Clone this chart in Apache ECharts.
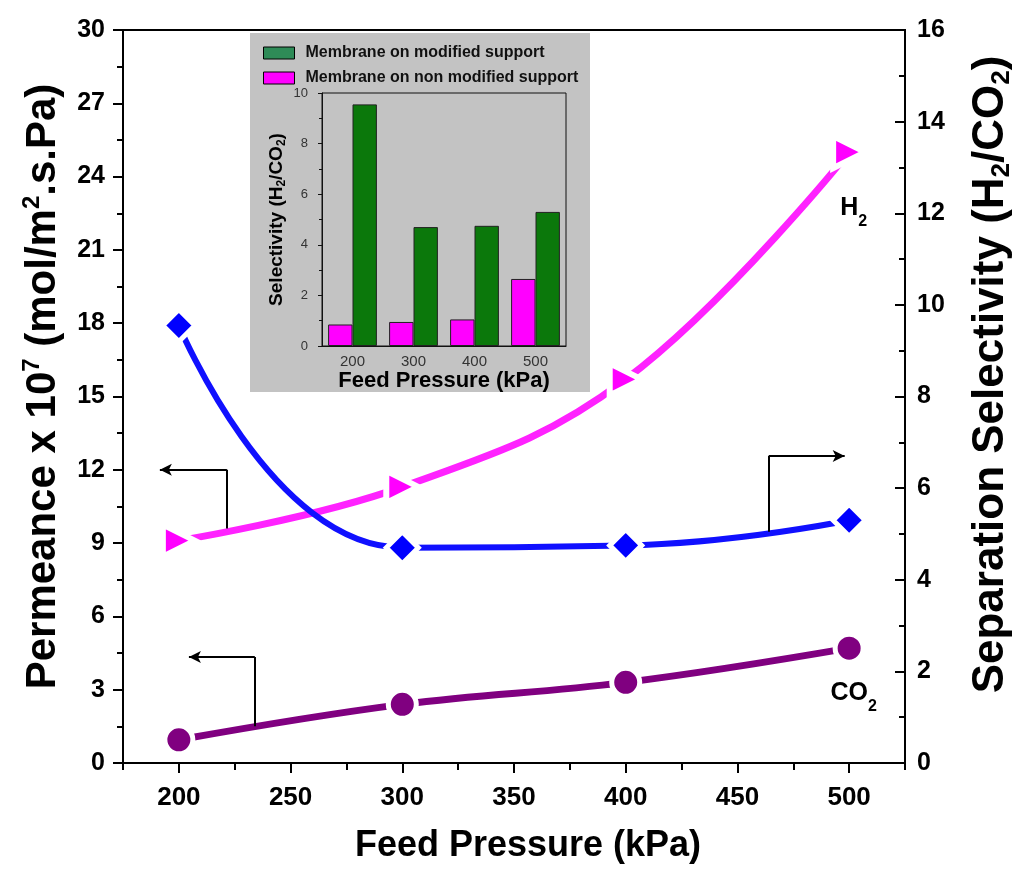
<!DOCTYPE html>
<html>
<head>
<meta charset="utf-8">
<script src="https://cdn.jsdelivr.net/npm/echarts@6/dist/echarts.min.js"></script>
<style>
html,body{margin:0;padding:0;background:#fff;}
#chart{width:1015px;height:870px;}
</style>
</head>
<body>
<div id="chart"></div>
<script>
// ---- data ----
const pressure = [200, 300, 400, 500];
const h2Permeance = [9.1, 11.3, 15.7, 25.0];
const co2Permeance = [0.95, 2.4, 3.3, 4.7];
const selectivityModified = [9.55, 4.7, 4.75, 5.3];
const selectivityNonModified = [0.85, 0.95, 1.05, 2.65];
const insetCategories = ['200', '300', '400', '500'];
const xTickValues = [200, 250, 300, 350, 400, 450, 500];
const leftTickValues = [0, 3, 6, 9, 12, 15, 18, 21, 24, 27, 30];
const rightTickValues = [0, 2, 4, 6, 8, 10, 12, 14, 16];
const legendNames = ['Membrane on modified support', 'Membrane on non modified support'];
// annotation arrows (data coordinates): foot on the curve, corner, arrow tip
const arrowH2 = { foot: [221.5, 9.6], corner: [221.5, 12.0], tip: [191.5, 12.0] };
const arrowCO2 = { foot: [234, 1.5], corner: [234, 4.34], tip: [204.5, 4.34] };
const arrowSel = { foot: [464, 5.05], corner: [464, 6.7], tip: [498, 6.7] };
const labelH2Pos = [502, 22.7];
const labelCO2Pos = [502, 2.85];

const FONT = "'Liberation Sans', Arial, sans-serif";

function pairs(xs, ys) { return xs.map((x, i) => [x, ys[i]]); }
function arrowLines(a) {
  return [
    [{ coord: a.foot, symbol: 'none' }, { coord: a.corner, symbol: 'none' }],
    [{ coord: a.corner, symbol: 'none' }, { coord: a.tip, symbol: 'arrow' }]
  ];
}
const arrowStyle = {
  silent: true,
  symbolSize: [9, 12],
  lineStyle: { color: '#000', width: 2, type: 'solid' },
  label: { show: false },
  emphasis: { disabled: true }
};
const subLabel = (fs, sfs) => ({
  b: { fontFamily: FONT, fontWeight: 'bold', fontSize: fs, color: '#000', lineHeight: fs + 4 },
  s: { fontFamily: FONT, fontWeight: 'bold', fontSize: sfs, color: '#000', lineHeight: fs + 4, verticalAlign: 'bottom', padding: [0, 0, -7, 0] }
});

const chart = echarts.init(document.getElementById('chart'), null, { renderer: 'canvas' });
const option = {
  animation: false,
  backgroundColor: '#fff',
  graphic: [{
    type: 'rect', left: 250, top: 33, z: -1,
    shape: { width: 340, height: 359 },
    style: { fill: '#c3c3c3' }
  }],
  legend: {
    data: [
      { name: legendNames[0], itemStyle: { color: '#2e8b57', borderColor: '#000', borderWidth: 1 } },
      { name: legendNames[1], itemStyle: { color: '#ff00ff', borderColor: '#000', borderWidth: 1 } }
    ],
    orient: 'vertical', left: 258, top: 40,
    itemWidth: 31, itemHeight: 12, itemGap: 9,
    icon: 'rect',
    textStyle: { fontFamily: FONT, fontWeight: 'bold', fontSize: 16, color: '#111', padding: [0, 0, 0, 6] },
    selectedMode: false
  },
  grid: [
    { left: 123, right: 110, top: 30, bottom: 107, outerBoundsMode: 'none', containLabel: false, show: true, borderColor: '#000', borderWidth: 2 },
    { left: 322, top: 93, width: 244, height: 253, outerBoundsMode: 'none', containLabel: false, show: true, borderColor: '#111', borderWidth: 1 }
  ],
  xAxis: [
    {
      gridIndex: 0, type: 'value', min: 175, max: 525, interval: 25,
      axisLine: { lineStyle: { color: '#000', width: 2 } },
      axisTick: { show: true, length: 10, lineStyle: { color: '#000', width: 2 }, customValues: xTickValues },
      minorTick: { show: false },
      splitLine: { show: false },
      axisLabel: { customValues: xTickValues, margin: 22, fontFamily: FONT, fontWeight: 'bold', fontSize: 26, color: '#000' },
      name: 'Feed Pressure (kPa)', nameLocation: 'middle', nameGap: 65,
      nameTextStyle: { fontFamily: FONT, fontWeight: 'bold', fontSize: 36, color: '#000', padding: [0, 0, 0, 28] }
    },
    {
      gridIndex: 0, type: 'value', min: 175, max: 525, interval: 25, position: 'bottom',
      axisLine: { show: false },
      axisTick: { show: true, length: 7, lineStyle: { color: '#000', width: 2 } },
      axisLabel: { show: false }, splitLine: { show: false }
    },
    {
      gridIndex: 1, type: 'category', data: insetCategories,
      axisLine: { lineStyle: { color: '#111', width: 1 } },
      axisTick: { length: 4, lineStyle: { color: '#111' } },
      axisLabel: { margin: 8, fontFamily: FONT, fontSize: 15, color: '#333' },
      name: 'Feed Pressure (kPa)', nameLocation: 'middle', nameGap: 23,
      nameTextStyle: { fontFamily: FONT, fontWeight: 'bold', fontSize: 22, color: '#000' }
    }
  ],
  yAxis: [
    {
      gridIndex: 0, type: 'value', min: 0, max: 30, interval: 3,
      axisLine: { show: true, lineStyle: { color: '#000', width: 2 } },
      axisTick: { show: true, length: 10, lineStyle: { color: '#000', width: 2 } },
      minorTick: { show: true, splitNumber: 2, length: 6, lineStyle: { color: '#000', width: 2 } },
      splitLine: { show: false },
      axisLabel: { margin: 18, fontFamily: FONT, fontWeight: 'bold', fontSize: 25, color: '#000' },
      name: '{a|Permeance x 10}{sup|7}{a| (mol/m}{sup|2}{a|.s.Pa)}',
      nameLocation: 'middle', nameGap: 57, nameRotate: 90,
      nameTextStyle: {
        padding: [0, 0, 0, 20],
        rich: {
          a: { fontFamily: FONT, fontWeight: 'bold', fontSize: 42, color: '#000', lineHeight: 46 },
          sup: { fontFamily: FONT, fontWeight: 'bold', fontSize: 24, color: '#000', lineHeight: 46, verticalAlign: 'top', padding: [0, 0, 16, 0] }
        }
      }
    },
    {
      gridIndex: 0, type: 'value', min: 0, max: 16, interval: 2, position: 'right',
      axisLine: { show: true, lineStyle: { color: '#000', width: 2 } },
      axisTick: { show: true, inside: true, length: 10, lineStyle: { color: '#000', width: 2 } },
      minorTick: { show: true, splitNumber: 2, length: 6, lineStyle: { color: '#000', width: 2 } },
      splitLine: { show: false },
      axisLabel: { margin: 12, fontFamily: FONT, fontWeight: 'bold', fontSize: 25, color: '#000' },
      name: '{a|Separation Selectivity (H}{sub|2}{a|/CO}{sub|2}{a|)}',
      nameLocation: 'middle', nameGap: 62, nameRotate: 90,
      nameTextStyle: {
        padding: [0, 0, 0, 44],
        rich: {
          a: { fontFamily: FONT, fontWeight: 'bold', fontSize: 44, color: '#000', lineHeight: 48 },
          sub: { fontFamily: FONT, fontWeight: 'bold', fontSize: 26, color: '#000', lineHeight: 48, verticalAlign: 'bottom' }
        }
      }
    },
    {
      gridIndex: 1, type: 'value', min: 0, max: 10, interval: 2,
      axisLine: { show: true, lineStyle: { color: '#111', width: 1 } },
      axisTick: { show: true, length: 4, lineStyle: { color: '#111' } },
      minorTick: { show: true, splitNumber: 2, length: 3, lineStyle: { color: '#111' } },
      splitLine: { show: false },
      axisLabel: { margin: 14, fontFamily: FONT, fontSize: 13, color: '#333' },
      name: '{a|Selectivity (H}{sub|2}{a|/CO}{sub|2}{a|)}',
      nameLocation: 'middle', nameGap: 34, nameRotate: 90,
      nameTextStyle: {
        rich: {
          a: { fontFamily: FONT, fontWeight: 'bold', fontSize: 19, color: '#000', lineHeight: 22 },
          sub: { fontFamily: FONT, fontWeight: 'bold', fontSize: 12, color: '#000', lineHeight: 22, verticalAlign: 'bottom' }
        }
      }
    }
  ],
  series: [
    {
      name: 'H2 permeance', type: 'line', xAxisIndex: 0, yAxisIndex: 0,
      data: pairs(pressure, h2Permeance), smooth: 0.4,
      symbol: 'triangle', symbolRotate: -90, symbolSize: 32,
      lineStyle: { color: '#ff22ff', width: 7 },
      itemStyle: { color: '#ff00ff', borderColor: '#fff', borderWidth: 6 },
      z: 3,
      markLine: Object.assign({ data: arrowLines(arrowH2) }, arrowStyle),
      markPoint: {
        silent: true, symbol: 'circle', symbolSize: 1, itemStyle: { color: 'rgba(0,0,0,0)' },
        label: { show: true, position: 'inside', formatter: '{b|H}{s|2}', rich: subLabel(25, 16) },
        data: [{ coord: labelH2Pos }]
      }
    },
    {
      name: 'CO2 permeance', type: 'line', xAxisIndex: 0, yAxisIndex: 0,
      data: pairs(pressure, co2Permeance), smooth: 0.4,
      symbol: 'circle', symbolSize: 28,
      lineStyle: { color: '#800080', width: 7 },
      itemStyle: { color: '#800080', borderColor: '#fff', borderWidth: 5 },
      z: 3,
      markLine: Object.assign({ data: arrowLines(arrowCO2) }, arrowStyle),
      markPoint: {
        silent: true, symbol: 'circle', symbolSize: 1, itemStyle: { color: 'rgba(0,0,0,0)' },
        label: { show: true, position: 'inside', formatter: '{b|CO}{s|2}', rich: subLabel(25, 16) },
        data: [{ coord: labelCO2Pos }]
      }
    },
    {
      name: 'Selectivity', type: 'line', xAxisIndex: 0, yAxisIndex: 1,
      data: pairs(pressure, selectivityModified), smooth: 0.5,
      symbol: 'diamond', symbolSize: 32,
      lineStyle: { color: '#1010ff', width: 6 },
      itemStyle: { color: '#0000ff', borderColor: '#fff', borderWidth: 5 },
      z: 3,
      markLine: Object.assign({ data: arrowLines(arrowSel) }, arrowStyle)
    },
    {
      name: legendNames[1], type: 'bar', xAxisIndex: 2, yAxisIndex: 2,
      data: selectivityNonModified, barGap: '0%', barCategoryGap: '20%',
      itemStyle: { color: '#ff00ff', borderColor: '#222', borderWidth: 1 }
    },
    {
      name: legendNames[0], type: 'bar', xAxisIndex: 2, yAxisIndex: 2,
      data: selectivityModified, barGap: '0%', barCategoryGap: '20%',
      itemStyle: { color: '#0b780b', borderColor: '#222', borderWidth: 1 }
    }
  ]
};
chart.setOption(option);
</script>
</body>
</html>
